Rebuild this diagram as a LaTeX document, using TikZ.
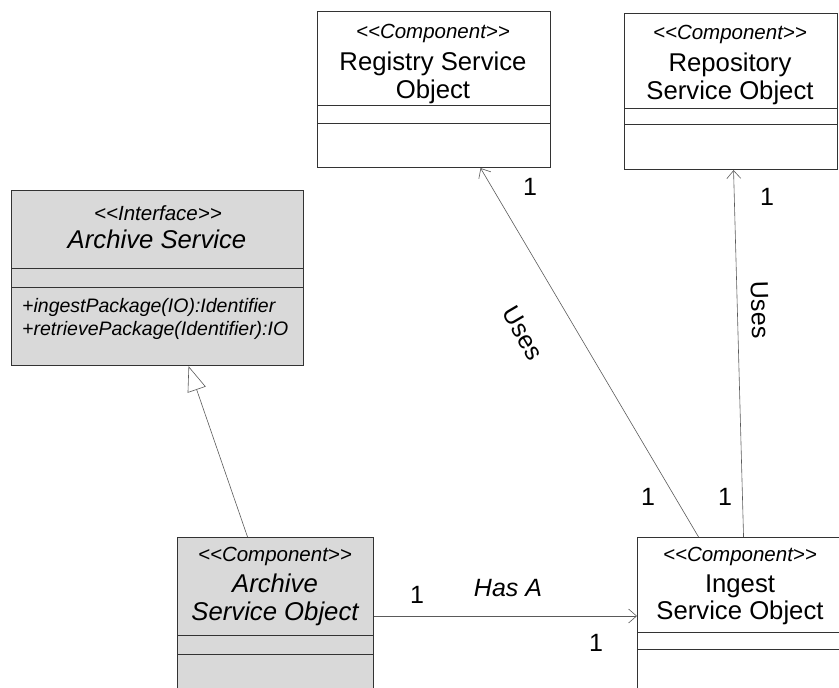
\documentclass[tikz,border=0pt]{standalone}
\usepackage{fontspec}
\setmainfont{Liberation Sans}
\usetikzlibrary{arrows.meta}

\definecolor{umlgray}{RGB}{217,217,217}
\definecolor{umlline}{RGB}{51,51,51}
\definecolor{connline}{RGB}{90,90,90}

\newcommand{\stype}[1]{<{}<#1>{}>}

\begin{document}
\begin{tikzpicture}[x=1pt, y=-1pt,
  umlbox/.style={draw=umlline, line width=1.1pt, inner sep=0pt, anchor=north west},
  stereo/.style={font=\fontsize{20.5}{22}\selectfont\itshape, inner sep=0pt},
  title/.style={font=\fontsize{25.7}{27.5}\selectfont, align=center, inner sep=0pt},
  methods/.style={font=\fontsize{19.5}{23}\selectfont\itshape, align=left, inner sep=0pt, anchor=west},
  mult/.style={font=\fontsize{25}{28}\selectfont, inner sep=0pt},
  conn/.style={draw=connline, line width=0.6pt},
  open arrow/.style={-{Straight Barb[length=8pt, width=14pt]}},
  ]

\clip (0,0) rectangle (839,688);

% class boxes
\node (reg) [umlbox, fill=white, minimum width=233pt, minimum height=156pt] at (317,11) {};
\node (repo) [umlbox, fill=white, minimum width=213pt, minimum height=156pt] at (624,13) {};
\node (as) [umlbox, fill=umlgray, minimum width=292pt, minimum height=175pt] at (11,190) {};
\node (aso) [umlbox, fill=umlgray, minimum width=196pt, minimum height=163pt] at (177,537) {};
\node (ing) [umlbox, fill=white, minimum width=206pt, minimum height=163pt] at (637,537) {};

\foreach \n/\a/\b in {reg/94/112, repo/95/111, as/78/97, aso/98/117, ing/95/112}
{
  \draw [umlline, line width=1pt] ([yshift=-\a pt]\n.north west) -- ([yshift=-\a pt]\n.north east);
  \draw [umlline, line width=1pt] ([yshift=-\b pt]\n.north west) -- ([yshift=-\b pt]\n.north east);
}

\node (regst) [stereo] at (433,33) {\stype{Component}};
\node (regti) [title] at (433,78) {Registry Service\\Object};

\node (repost) [stereo] at (730,34) {\stype{Component}};
\node (repoti) [title] at (730,79) {Repository\\Service Object};

\node (asst) [stereo] at (158,213) {\stype{Interface}};
\node (asti) [title, font=\fontsize{25.7}{28}\selectfont\itshape] at (157,239) {Archive Service};
\node (asme) [methods] at (22,319) {+ingestPackage(IO):Identifier\\+retrievePackage(Identifier):IO};

\node (asost) [stereo] at (275,556) {\stype{Component}};
\node (asoti) [title, font=\fontsize{25.7}{28.5}\selectfont\itshape] at (275,600) {Archive\\Service Object};

\node (ingst) [stereo] at (740,556) {\stype{Component}};
\node (ingti) [title] at (740,600) {Ingest\\Service Object};

% relations
\coordinate (hasa) at (0,616);
\draw [conn, open arrow] (aso.east |- hasa) -- (ing.west |- hasa);
\draw [conn, open arrow] ([xshift=-42pt]ing.north) -- ([xshift=46.5pt]reg.south);
\draw [conn, open arrow] ([xshift=3pt]ing.north) -- ([xshift=2.5pt]repo.south);
\draw [conn, -{Triangle[open, length=25pt, width=19pt]}] ([xshift=-28pt]aso.north) -- ([xshift=31pt]as.south);

\node (hasalbl) [mult, font=\fontsize{25}{28}\selectfont\itshape] at (508,588) {Has A};
\node (hasa1) [mult] at (417,595) {1};
\node (hasa2) [mult] at (596,643) {1};

\node (uses1) [mult, rotate=-59.5] at (523,333) {Uses};
\node (reg1) [mult] at (530,187) {1};
\node (ing1) [mult] at (648,497) {1};

\node (uses2) [mult, rotate=-88.4] at (760,310) {Uses};
\node (repo1) [mult] at (767,197) {1};
\node (ing2) [mult] at (725,497) {1};

\end{tikzpicture}
\end{document}
